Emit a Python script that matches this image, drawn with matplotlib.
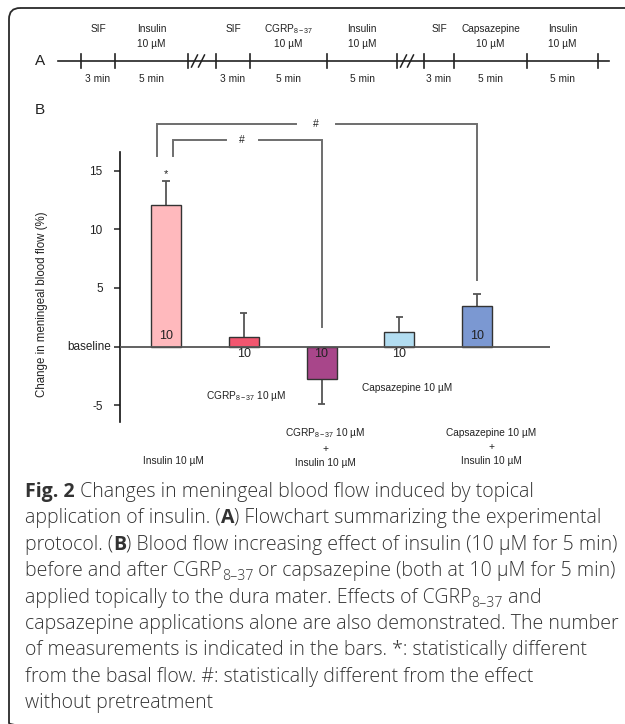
import matplotlib
matplotlib.use('Agg')
import matplotlib.pyplot as plt
from matplotlib.patches import FancyBboxPatch
from matplotlib.transforms import blended_transform_factory

plt.rcParams['font.family'] = ['Liberation Sans', 'DejaVu Sans']
plt.rcParams['mathtext.fontset'] = 'custom'
plt.rcParams['mathtext.rm'] = 'Liberation Sans'
plt.rcParams['mathtext.it'] = 'Liberation Sans'

# ---------------- data ----------------
# Panel A protocol
protocol_top = [["SIF", "Insulin"],
                ["SIF", "CGRP$_{\\mathregular{8-37}}$", "Insulin"],
                ["SIF", "Capsazepine", "Insulin"]]
protocol_conc = [["", "10 µM"], ["", "10 µM", "10 µM"], ["", "10 µM", "10 µM"]]
protocol_dur = [["3 min", "5 min"], ["3 min", "5 min", "5 min"], ["3 min", "5 min", "5 min"]]

# Panel B bars
categories = ["Insulin 10 µM",
              "CGRP$_{\\mathregular{8-37}}$ 10 µM",
              "CGRP$_{\\mathregular{8-37}}$ 10 µM\n+\nInsulin 10 µM",
              "Capsazepine 10 µM",
              "Capsazepine 10 µM\n+\nInsulin 10 µM"]
means = [12.1, 0.85, -2.8, 1.2, 3.45]
errors = [2.0, 2.0, 2.1, 1.35, 1.05]
n_meas = [10, 10, 10, 10, 10]
bar_colors = ["#FFB9BD", "#F2566F", "#A8468A", "#B2DDF1", "#7B98D2"]
y_ticks = [-5, 0, 5, 10, 15]
y_tick_labels = ["-5", "", "5", "10", "15"]
y_label = "Change in meningeal blood flow (%)"
# significance brackets: (left bar, right bar, label)
sig_pairs = [(0, 4, "#"), (0, 2, "#")]
star_bar = 0

caption_lines = [
    [("Fig. 2", "bold"), (" Changes in meningeal blood flow induced by topical", "n")],
    [("application of insulin. (", "n"), ("A", "bold"), (") Flowchart summarizing the experimental", "n")],
    [("protocol. (", "n"), ("B", "bold"), (") Blood flow increasing effect of insulin (10 µM for 5 min)", "n")],
    [("before and after CGRP", "n"), ("8–37", "sub"), (" or capsazepine (both at 10 µM for 5 min)", "n")],
    [("applied topically to the dura mater. Effects of CGRP", "n"), ("8–37", "sub"), (" and", "n")],
    [("capsazepine applications alone are also demonstrated. The number", "n")],
    [("of measurements is indicated in the bars. *: statistically different", "n")],
    [("from the basal flow. #: statistically different from the effect", "n")],
    [("without pretreatment", "n")],
]

# ---------------- figure ----------------
fig = plt.figure(figsize=(6.25, 7.24), dpi=100)
ov = fig.add_axes([0, 0, 1, 1])
ov.set_xlim(0, 625)
ov.set_ylim(724, 0)
ov.axis('off')

frame = FancyBboxPatch((9, 8), 660, 726, boxstyle="round,pad=0,rounding_size=11",
                       fill=False, ec="#2a2a2a", lw=1.3)
ov.add_patch(frame)

# ---------------- panel A ----------------
tc = "#222222"
line_y = 61
block_ticks = [[81, 115, 188], [216, 250, 327, 397], [424, 454, 527, 598]]
ov.text(40, line_y, "A", fontsize=11, ha='center', va='center', color=tc)
ov.plot([58, 609], [line_y, line_y], color=tc, lw=1.2)
for b, ticks in enumerate(block_ticks):
    for t in ticks:
        ov.plot([t, t], [line_y - 7, line_y + 7], color=tc, lw=1.2)
    for i in range(len(ticks) - 1):
        cx = (ticks[i] + ticks[i + 1]) / 2
        ov.text(cx, 29, protocol_top[b][i], fontsize=7.3, ha='center', va='center', color=tc)
        if protocol_conc[b][i]:
            ov.text(cx, 44, protocol_conc[b][i], fontsize=7.3, ha='center', va='center', color=tc)
        ov.text(cx, 79, protocol_dur[b][i], fontsize=7.3, ha='center', va='center', color=tc)
    if b < len(block_ticks) - 1:
        bx = ticks[-1] + 10
        for off in (-3.5, 3.5):
            ov.plot([bx + off - 3, bx + off + 3], [line_y + 6, line_y - 6], color=tc, lw=1.1)

# ---------------- panel B ----------------
ov.text(40, 110, "B", fontsize=11, ha='center', va='center', color=tc)

ax = fig.add_axes([120 / 625, (724 - 422) / 724, 430 / 625, 270 / 724])
ax.patch.set_alpha(0)
x = list(range(len(means)))
ax.set_xlim(-0.592, 4.939)
ax.set_ylim(-6.45, 16.62)
for s in ['top', 'right', 'bottom']:
    ax.spines[s].set_visible(False)
ax.spines['left'].set_color('#111111')
ax.spines['left'].set_linewidth(1.2)
ax.set_xticks([])
ax.set_yticks(y_ticks)
ax.set_yticklabels(y_tick_labels)
ax.tick_params(axis='y', direction='out', length=4.5, width=1.1, pad=8,
               labelsize=8.5, colors='#222222')

# one-sided error bars (outward from the bar)
ends = [m + e if m >= 0 else m - e for m, e in zip(means, errors)]
cap_hw = 0.048
ax.vlines(x, means, ends, color='#555555', lw=1.3, zorder=1)
ax.hlines(ends, [xi - cap_hw for xi in x], [xi + cap_hw for xi in x],
          color='#555555', lw=1.3, zorder=1)
ax.bar(x, means, width=0.386, color=bar_colors, edgecolor='#333333', linewidth=1.0, zorder=2)
ax.axhline(0, color='#555555', lw=1.3, zorder=3)

for xi, m, n in zip(x, means, n_meas):
    yy = 0.9 if m > 2 else -0.64
    ax.text(xi, yy, str(n), ha='center', va='center', fontsize=9, color='#222222', zorder=4)

# star
ax.text(star_bar, 14.75, "*", ha='center', va='center', fontsize=8, color='#222222')

# significance brackets (data x, data y, clip off)
bracket_specs = [
    # left leg x offset, top y, right leg bottom y, label x, gap half-width
    (-0.115, 19.0, 5.7, 1.93, 0.26),
    (0.09, 17.65, 1.65, 0.98, 0.21),
]
for (l, r, lab), (lo, top, rbot, lx, gh) in zip(sig_pairs, bracket_specs):
    xl = l + lo
    xr = r
    ax.plot([xl, xl, lx - gh], [16.3, top, top], color='#6e6e6e', lw=1.4,
            clip_on=False, solid_joinstyle='miter')
    ax.plot([lx + gh, xr, xr], [top, top, rbot], color='#6e6e6e', lw=1.4,
            clip_on=False, solid_joinstyle='miter')
    ax.text(lx, top, lab, ha='center', va='center', fontsize=7.5, color='#222222',
            clip_on=False)

# baseline label
ov.text(111, 346.5, "baseline", ha='right', va='center', fontsize=8.5, color='#222222')
# y label
ov.text(42, 304, y_label, rotation=90, ha='center', va='center', fontsize=8.3, color='#222222')

# category labels (x from bar positions, y in pixels)
bt = blended_transform_factory(ax.transData, ov.transData)
cat_dx = [0.1, 0.03, 0.05, 0.1, 0.18]
cat_y = [461, 396, 447, 388, 447]
for xi, lab, dx, yy in zip(x, categories, cat_dx, cat_y):
    ov.text(xi + dx, yy, lab, transform=bt, ha='center', va='center', fontsize=7.3,
            color='#222222', linespacing=1.45)

# ---------------- caption ----------------
renderer = fig.canvas.get_renderer()
cap_color = '#333333'
cap_family = ['Open Sans', 'DejaVu Sans']
reg_w = 'light'


def seg_width(s, fs, weight):
    t1 = ov.text(0, 0, '|' + s + '|', fontsize=fs, fontweight=weight, family=cap_family)
    t2 = ov.text(0, 0, '||', fontsize=fs, fontweight=weight, family=cap_family)
    w = t1.get_window_extent(renderer).width - t2.get_window_extent(renderer).width
    t1.remove()
    t2.remove()
    return w


def seg_style(kind, fs):
    if kind == 'sub':
        return fs * 0.72, reg_w, 4
    if kind == 'bold':
        return fs, 'bold', 0
    return fs, reg_w, 0


def line_width(segs, fs):
    w = 0
    for s, kind in segs:
        f, wt, _ = seg_style(kind, fs)
        w += seg_width(s, f, wt)
    return w


fs0 = 10.0
cap_fs = fs0 * 592.0 / line_width(caption_lines[2], fs0)

for i, segs in enumerate(caption_lines):
    xx = 25
    yb = 497 + 26.4 * i
    for s, kind in segs:
        f, wt, yo = seg_style(kind, cap_fs)
        ov.text(xx, yb + yo, s, fontsize=f, fontweight=wt, family=cap_family,
                ha='left', va='baseline', color=cap_color)
        xx += seg_width(s, f, wt)

fig.savefig('out.png', dpi=100)
